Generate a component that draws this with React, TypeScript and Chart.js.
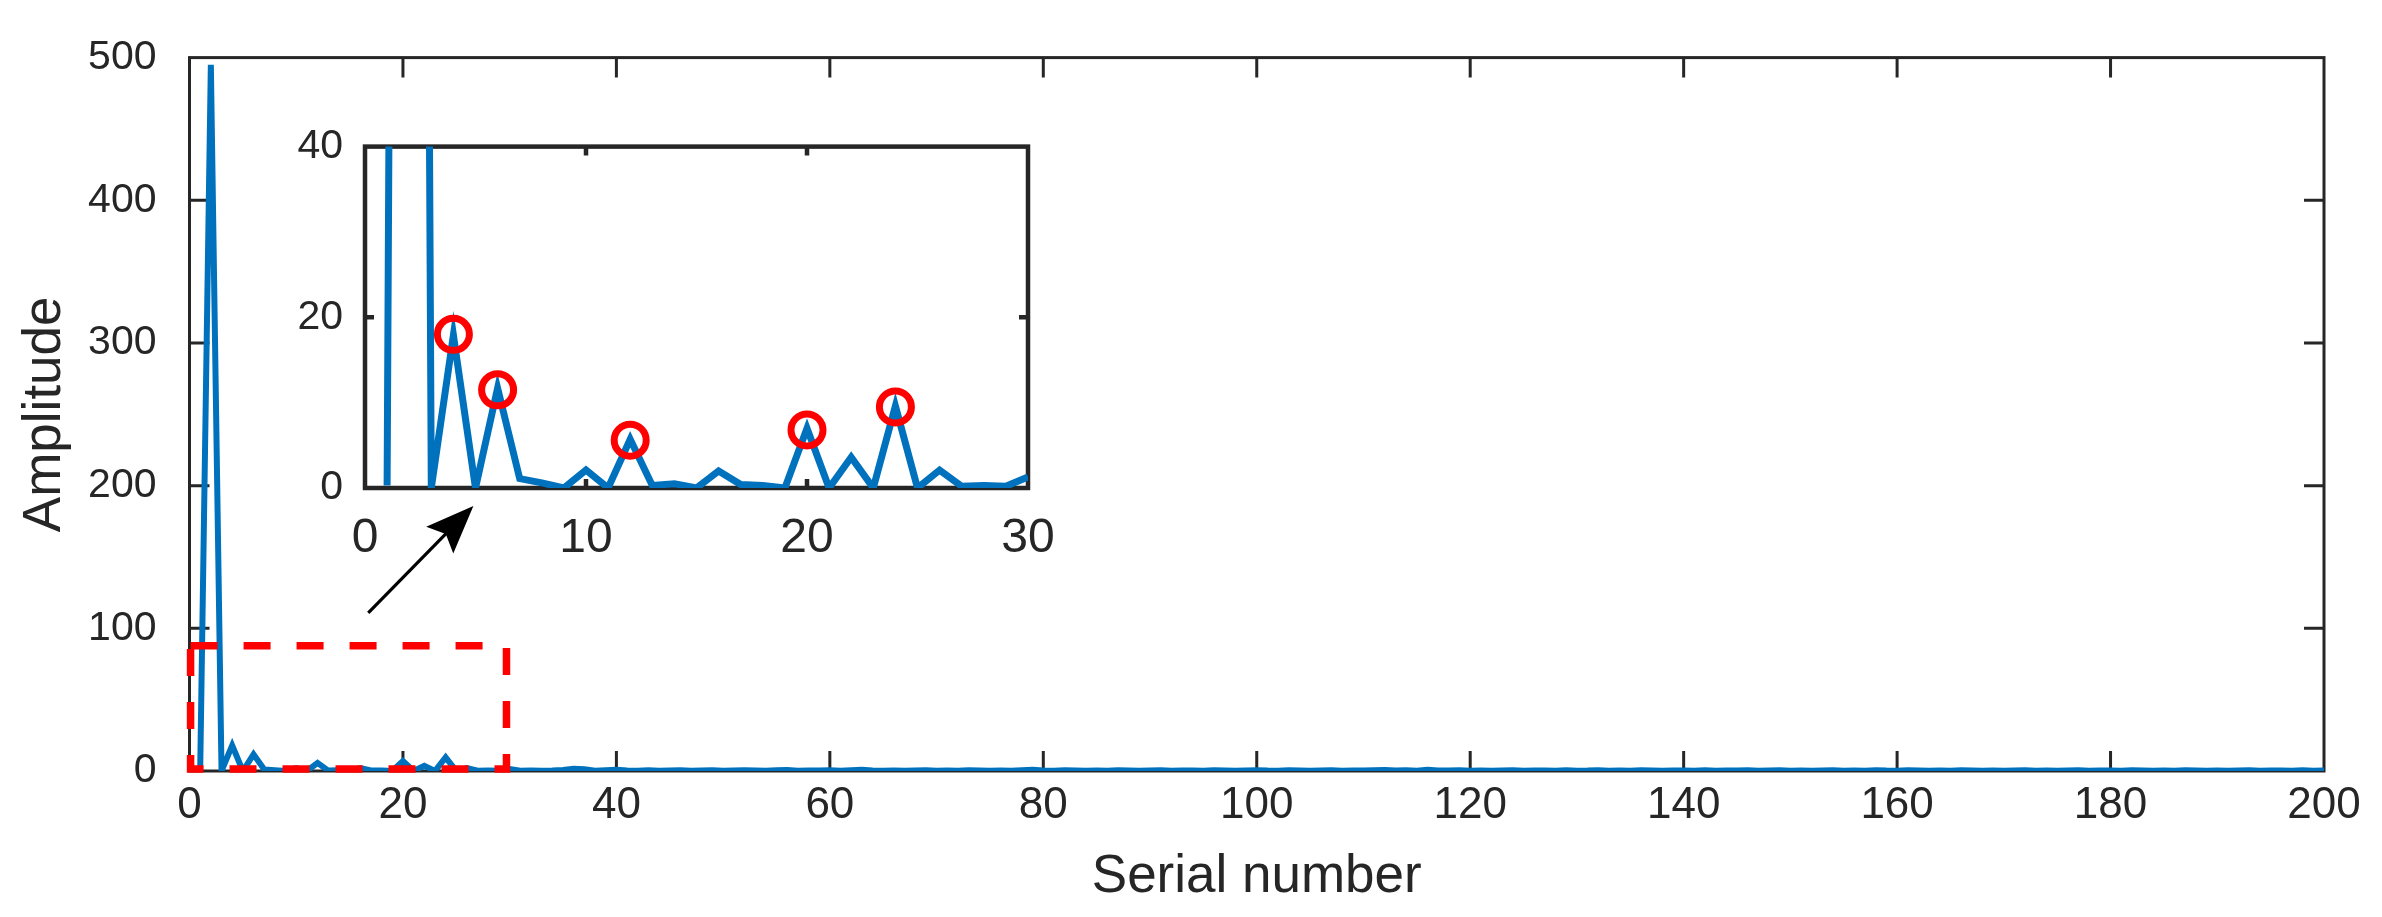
import React, { useEffect, useRef } from "react";
import { Chart, registerables } from "chart.js";

Chart.register(...registerables);

// ---------- data ----------
// Amplitude for serial numbers 1..30
const headAmplitude = [
  0.3, 495, 0, 17.9, 0, 11.7, 1.1, 0.6, 0, 2.1,
  0, 5.7, 0.3, 0.5, 0, 2.0, 0.4, 0.3, 0, 7.0,
  0, 3.6, 0, 9.6, 0, 2.1, 0.2, 0.3, 0.2, 1.3,
];
// Amplitude for serial numbers 31..200 (small residual noise)
const tailAmplitude = [
  0.2, 0.4, 0.1, 0.3, 0.7, 1.6, 1.3, 0.2, 0.5, 0.9,
  0.3, 0.1, 0.5, 0.2, 0.4, 0.6, 0.2, 0.3, 0.5, 0.1,
  0.4, 0.6, 0.3, 0.1, 0.5, 0.7, 0.2, 0.4, 0.3, 0.6,
  0.2, 0.5, 0.8, 0.3, 0.2, 0.4, 0.1, 0.3, 0.6, 0.2,
  0.4, 0.2, 0.5, 0.3, 0.1, 0.4, 0.2, 0.6, 0.9, 0.3,
  0.2, 0.5, 0.4, 0.1, 0.3, 0.2, 0.6, 0.4, 0.2, 0.3,
  0.5, 0.1, 0.3, 0.4, 0.2, 0.5, 0.3, 0.1, 0.4, 0.6,
  0.3, 0.2, 0.5, 0.4, 0.1, 0.3, 0.6, 0.2, 0.4, 0.3,
  0.5, 0.7, 0.3, 0.6, 0.2, 0.8, 0.4, 0.3, 0.5, 0.2,
  0.4, 0.1, 0.3, 0.5, 0.2, 0.4, 0.3, 0.1, 0.5, 0.2,
  0.3, 0.6, 0.2, 0.4, 0.1, 0.5, 0.3, 0.2, 0.4, 0.3,
  0.2, 0.5, 0.1, 0.4, 0.3, 0.6, 0.2, 0.3, 0.5, 0.1,
  0.4, 0.2, 0.3, 0.5, 0.1, 0.4, 0.2, 0.6, 0.3, 0.2,
  0.5, 0.3, 0.1, 0.4, 0.2, 0.5, 0.3, 0.2, 0.4, 0.1,
  0.3, 0.5, 0.2, 0.4, 0.1, 0.3, 0.6, 0.2, 0.4, 0.3,
  0.2, 0.5, 0.3, 0.1, 0.4, 0.2, 0.5, 0.3, 0.2, 0.4,
  0.1, 0.3, 0.5, 0.2, 0.4, 0.3, 0.1, 0.5, 0.2, 0.3,
];
const amplitude = [...headAmplitude, ...tailAmplitude];
const serialStart = 1;

// marked peaks in the inset
const peakSerial = [4, 6, 12, 20, 24];
const peakAmplitude = [18.0, 11.5, 5.6, 6.8, 9.5];

// tick values
const mainXTicks = [0, 20, 40, 60, 80, 100, 120, 140, 160, 180, 200];
const mainYTicks = [0, 100, 200, 300, 400, 500];
const insetXTicks = [0, 10, 20, 30];
const insetYTicks = [0, 20, 40];

// zoom box (data units of the main axes) and arrow (data units of the main axes)
const zoomBoxSerial = [0.1, 29.7];
const zoomBoxAmplitude = [1.4, 87.7];
const arrowFrom = [16.75, 110.9];
const arrowTo = [26.6, 185.8];

// ---------- styles ----------
const FONT = "'Liberation Sans', Arial, Helvetica, sans-serif";
const TEXT = "#262626";
const BLUE = "#0072BD";
const RED = "#FF0000";

const points = amplitude.map((v, i) => ({ x: serialStart + i, y: v }));
const insetPoints = points.slice(0, 31);
const peakPoints = peakSerial.map((x, i) => ({ x, y: peakAmplitude[i] }));

function framePlugin(id: string, tickLen: number, lw: number, fillBg: boolean) {
  return {
    id,
    beforeDraw(chart: any) {
      if (!fillBg) return;
      const { ctx, chartArea: a } = chart;
      ctx.save();
      ctx.fillStyle = "#ffffff";
      ctx.fillRect(a.left, a.top, a.right - a.left, a.bottom - a.top);
      ctx.restore();
    },
    beforeDatasetsDraw(chart: any) {
      const { ctx, chartArea: a, scales } = chart;
      const xs = scales.x;
      const ys = scales.y;
      ctx.save();
      ctx.strokeStyle = TEXT;
      ctx.lineWidth = lw;
      ctx.setLineDash([]);
      ctx.beginPath();
      xs.ticks.forEach((t: any) => {
        const p = xs.getPixelForValue(t.value);
        if (p <= a.left + 2 || p >= a.right - 2) return;
        ctx.moveTo(p, a.bottom);
        ctx.lineTo(p, a.bottom - tickLen);
        ctx.moveTo(p, a.top);
        ctx.lineTo(p, a.top + tickLen);
      });
      ys.ticks.forEach((t: any) => {
        const p = ys.getPixelForValue(t.value);
        if (p <= a.top + 2 || p >= a.bottom - 2) return;
        ctx.moveTo(a.left, p);
        ctx.lineTo(a.left + tickLen, p);
        ctx.moveTo(a.right, p);
        ctx.lineTo(a.right - tickLen, p);
      });
      ctx.stroke();
      ctx.strokeRect(a.left, a.top, a.right - a.left, a.bottom - a.top);
      ctx.restore();
    },
  };
}

const annotationPlugin = {
  id: "zoomAnnotations",
  afterDatasetsDraw(chart: any) {
    const { ctx, scales } = chart;
    const xs = scales.x;
    const ys = scales.y;
    // red dashed zoom box
    const x0 = xs.getPixelForValue(zoomBoxSerial[0]);
    const x1 = xs.getPixelForValue(zoomBoxSerial[1]);
    const y0 = ys.getPixelForValue(zoomBoxAmplitude[0]);
    const y1 = ys.getPixelForValue(zoomBoxAmplitude[1]);
    ctx.save();
    ctx.strokeStyle = RED;
    ctx.lineWidth = 7.5;
    ctx.setLineDash([27, 26]);
    ctx.strokeRect(x0, y1, x1 - x0, y0 - y1);
    ctx.restore();

    // arrow
    const ax = xs.getPixelForValue(arrowFrom[0]);
    const ay = ys.getPixelForValue(arrowFrom[1]);
    const bx = xs.getPixelForValue(arrowTo[0]);
    const by = ys.getPixelForValue(arrowTo[1]);
    const ang = Math.atan2(by - ay, bx - ax);
    const headLen = 48;
    const headHalf = 19;
    const baseX = bx - headLen * Math.cos(ang);
    const baseY = by - headLen * Math.sin(ang);
    ctx.save();
    ctx.strokeStyle = "#000000";
    ctx.fillStyle = "#000000";
    ctx.lineWidth = 3.2;
    ctx.beginPath();
    ctx.moveTo(ax, ay);
    ctx.lineTo(baseX + 10 * Math.cos(ang), baseY + 10 * Math.sin(ang));
    ctx.stroke();
    ctx.beginPath();
    ctx.moveTo(bx, by);
    ctx.lineTo(baseX + headHalf * Math.sin(ang), baseY - headHalf * Math.cos(ang));
    ctx.lineTo(baseX + 0.18 * headLen * Math.cos(ang), baseY + 0.18 * headLen * Math.sin(ang));
    ctx.lineTo(baseX - headHalf * Math.sin(ang), baseY + headHalf * Math.cos(ang));
    ctx.closePath();
    ctx.fill();
    ctx.restore();
  },
};

export default function App() {
  const mainRef = useRef<HTMLCanvasElement>(null);
  const insetRef = useRef<HTMLCanvasElement>(null);

  useEffect(() => {
    const main = new Chart(mainRef.current as HTMLCanvasElement, {
      type: "line",
      data: {
        datasets: [
          {
            data: points,
            borderColor: BLUE,
            backgroundColor: BLUE,
            borderWidth: 6,
            pointRadius: 0,
            tension: 0,
            fill: false,
            clip: 0,
          } as any,
        ],
      },
      options: {
        animation: false,
        responsive: false,
        maintainAspectRatio: false,
        events: [],
        layout: { padding: { left: 0, top: 52.5, right: 58, bottom: 0 } },
        plugins: { legend: { display: false }, tooltip: { enabled: false } },
        scales: {
          x: {
            type: "linear",
            min: 0,
            max: 200,
            afterBuildTicks: (s: any) => {
              s.ticks = mainXTicks.map((v) => ({ value: v }));
            },
            afterFit: (s: any) => {
              s.height = 146;
            },
            grid: { display: false, drawTicks: false },
            border: { display: false },
            ticks: {
              color: TEXT,
              padding: 8,
              maxRotation: 0,
              autoSkip: false,
              font: { family: FONT, size: 44 },
            },
            title: {
              display: true,
              text: "Serial number",
              color: TEXT,
              font: { family: FONT, size: 53 },
              padding: { top: 0, bottom: 8 },
            },
          },
          y: {
            type: "linear",
            min: 0,
            max: 500,
            afterBuildTicks: (s: any) => {
              s.ticks = mainYTicks.map((v) => ({ value: v }));
            },
            afterFit: (s: any) => {
              s.width = 189.5;
            },
            grid: { display: false, drawTicks: false },
            border: { display: false },
            ticks: {
              color: TEXT,
              padding: 33,
              autoSkip: false,
              font: { family: FONT, size: 41 },
            },
            title: {
              display: true,
              text: "Amplitude",
              color: TEXT,
              font: { family: FONT, size: 53 },
              padding: { top: 14, bottom: 0 },
            },
          },
        },
      },
      plugins: [framePlugin("mainFrame", 20, 3, false), annotationPlugin],
    } as any);

    const inset = new Chart(insetRef.current as HTMLCanvasElement, {
      type: "line",
      data: {
        datasets: [
          {
            data: peakPoints,
            showLine: false,
            pointRadius: 16,
            pointBorderWidth: 7,
            pointBorderColor: RED,
            pointBackgroundColor: "rgba(0,0,0,0)",
            borderColor: RED,
            clip: false,
          } as any,
          {
            data: insetPoints,
            borderColor: BLUE,
            backgroundColor: BLUE,
            borderWidth: 7,
            pointRadius: 0,
            tension: 0,
            fill: false,
            clip: 0,
          } as any,
        ],
      },
      options: {
        animation: false,
        responsive: false,
        maintainAspectRatio: false,
        events: [],
        layout: { padding: { left: 0, top: 39, right: 52, bottom: 0 } },
        plugins: { legend: { display: false }, tooltip: { enabled: false } },
        scales: {
          x: {
            type: "linear",
            min: 0,
            max: 30,
            afterBuildTicks: (s: any) => {
              s.ticks = insetXTicks.map((v) => ({ value: v }));
            },
            afterFit: (s: any) => {
              s.height = 92;
            },
            grid: { display: false, drawTicks: false },
            border: { display: false },
            ticks: {
              color: TEXT,
              padding: 22,
              maxRotation: 0,
              autoSkip: false,
              font: { family: FONT, size: 48 },
            },
          },
          y: {
            type: "linear",
            min: 0,
            max: 40,
            afterBuildTicks: (s: any) => {
              s.ticks = insetYTicks.map((v) => ({ value: v }));
            },
            afterFit: (s: any) => {
              s.width = 115;
            },
            grid: { display: false, drawTicks: false },
            border: { display: false },
            ticks: {
              color: TEXT,
              padding: 22,
              autoSkip: false,
              font: { family: FONT, size: 41 },
            },
          },
        },
      },
      plugins: [framePlugin("insetFrame", 9, 4.5, true)],
    } as any);

    return () => {
      main.destroy();
      inset.destroy();
    };
  }, []);

  return (
    <div style={{ position: "absolute", left: 0, top: 0, width: 2382, height: 917, background: "#ffffff" }}>
      <canvas
        ref={mainRef}
        width={2382}
        height={917}
        style={{ position: "absolute", left: 0, top: 0, width: 2382, height: 917 }}
      />
      <canvas
        ref={insetRef}
        width={830}
        height={480}
        style={{ position: "absolute", left: 250, top: 100, width: 830, height: 480 }}
      />
    </div>
  );
}
